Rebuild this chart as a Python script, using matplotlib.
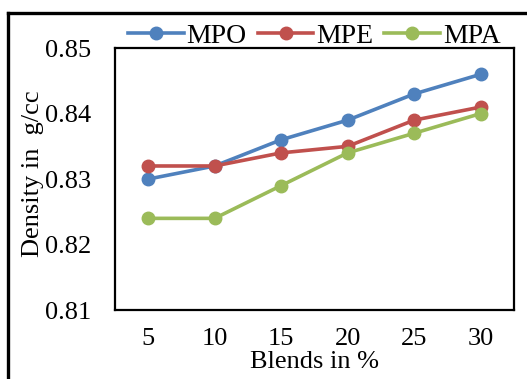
import matplotlib
matplotlib.use("Agg")
import matplotlib.pyplot as plt
from matplotlib.lines import Line2D

blends = ["5", "10", "15", "20", "25", "30"]
mpo = [0.830, 0.832, 0.836, 0.839, 0.843, 0.846]
mpe = [0.832, 0.832, 0.834, 0.835, 0.839, 0.841]
mpa = [0.824, 0.824, 0.829, 0.834, 0.837, 0.840]
y_ticks = [0.81, 0.82, 0.83, 0.84, 0.85]

plt.rcParams["font.family"] = ["Liberation Serif", "DejaVu Serif"]

fig = plt.figure(figsize=(5.27, 3.79), dpi=100)
ax = fig.add_axes([0.218, 0.182, 0.757, 0.691])

x = range(len(blends))
series = [("MPO", mpo, "#4F81BD"), ("MPE", mpe, "#C0504D"), ("MPA", mpa, "#9BBB59")]
for name, vals, col in series:
    ax.plot(x, vals, color=col, lw=2.6, marker="o", ms=9, label=name)

ax.set_xlim(-0.5, len(blends) - 0.5)
ax.set_ylim(0.81, 0.85)
ax.set_xticks(list(x))
ax.set_xticklabels(blends)
ax.set_yticks(y_ticks)
ax.set_yticklabels([f"{v:.2f}" for v in y_ticks])
ax.tick_params(length=0, labelsize=19)
ax.tick_params(axis="y", pad=17)
ax.tick_params(axis="x", pad=13)
for s in ax.spines.values():
    s.set_linewidth(1.6)

ax.set_xlabel("Blends in %", fontsize=19, labelpad=1)
ax.set_ylabel("Density in  g/cc", fontsize=19)
ax.yaxis.set_label_coords(-0.178, 0.52)

ax.legend(loc="lower center", bbox_to_anchor=(0.5, 0.955), ncol=3, frameon=False,
          fontsize=20, handlelength=2.0, handletextpad=0.1, columnspacing=0.4,
          borderaxespad=0.0)

# outer frame (top and left edges)
fig.add_artist(Line2D([8 / 527, 1.0], [1 - 13 / 379, 1 - 13 / 379],
                      transform=fig.transFigure, color="black", lw=2.4))
fig.add_artist(Line2D([8 / 527, 8 / 527], [0.0, 1 - 13 / 379],
                      transform=fig.transFigure, color="black", lw=2.4))

fig.savefig("out.png", dpi=100)
